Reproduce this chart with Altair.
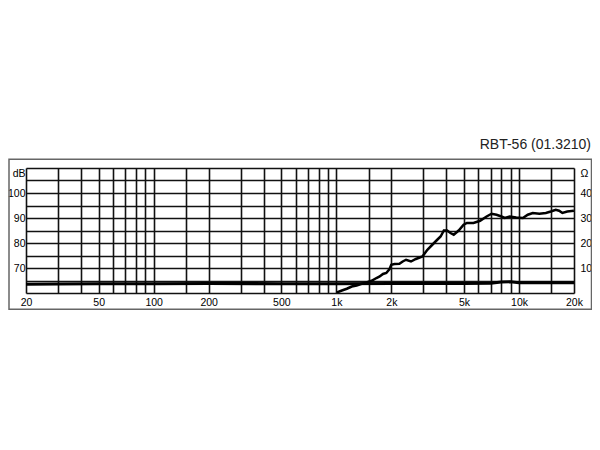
import altair as alt
import pandas as pd

title_text = "RBT-56 (01.3210)"

# rising response curve (dB)
spl_freq = [1007, 1072, 1141, 1214, 1292, 1375, 1464, 1558, 1658, 1727, 1800, 1877, 1956, 1998,
            2082, 2214, 2308, 2408, 2562, 2726, 2960, 3150, 3352, 3568, 3722, 3878, 4040, 4216,
            4392, 4674, 4974, 5184, 5634, 6122, 6646, 7074, 7530, 8010, 8360, 8894, 9656, 10496,
            11170, 11888, 12920, 14028, 14930, 15886, 16574, 17270, 18378, 19976]
spl_db = [60.2, 61.0, 61.7, 62.6, 63.0, 63.7, 64.2, 64.9, 66.0, 66.6, 67.6, 68.0, 69.6, 71.3,
          71.6, 71.7, 72.6, 73.3, 72.6, 73.6, 74.6, 77.3, 79.3, 81.3, 82.6, 85.0, 85.0, 84.0,
          83.3, 85.0, 87.3, 88.0, 88.0, 88.9, 90.6, 91.7, 91.3, 90.6, 90.0, 90.6, 90.2, 90.0,
          91.3, 92.0, 91.7, 92.0, 92.6, 93.3, 92.9, 92.0, 92.6, 92.9]

# flat curve (Ohm)
imp_freq = [20, 30, 50, 100, 200, 500, 1000, 2000, 5000, 7000, 8000, 9000, 10000, 15000, 20000]
imp_ohm = [3.5, 3.6, 3.7, 3.7, 3.8, 3.7, 3.7, 3.8, 3.8, 3.9, 4.4, 4.5, 4.1, 4.1, 4.1]

grid_freqs = [20, 30, 40, 50, 60, 70, 80, 90, 100, 150, 200, 300, 400, 500, 600, 700, 800, 900,
              1000, 1500, 2000, 3000, 4000, 5000, 6000, 7000, 8000, 9000, 10000, 15000, 20000]
label_freqs = [20, 50, 100, 200, 500, 1000, 2000, 5000, 10000, 20000]
db_grid = [60, 65, 70, 75, 80, 85, 90, 95, 100, 105, 110]
db_labels = [70, 80, 90, 100]
ohm_grid = [0, 5, 10, 15, 20, 25, 30, 35, 40, 45, 50]
ohm_labels = [10, 20, 30, 40]

spl = pd.DataFrame({"freq": spl_freq, "db": spl_db})
imp = pd.DataFrame({"freq": imp_freq, "ohm": imp_ohm})

FONT = "Liberation Sans"
LFS = 10.5

x_label_expr = (
    "indexof([" + ",".join(str(v) for v in label_freqs) + "], datum.value) >= 0 ? "
    "(datum.value >= 1000 ? (datum.value / 1000) + 'k' : datum.value + '') : ''"
)
db_label_expr = (
    "datum.value == 110 ? 'dB' : (indexof([" + ",".join(str(v) for v in db_labels)
    + "], datum.value) >= 0 ? datum.value + '' : '')"
)
ohm_label_expr = (
    "datum.value == 50 ? 'Ω' : (indexof([" + ",".join(str(v) for v in ohm_labels)
    + "], datum.value) >= 0 ? datum.value + '' : '')"
)

x_scale = alt.Scale(type="log", domain=[20, 20000], nice=False)
x_enc = alt.X(
    "freq:Q", scale=x_scale,
    axis=alt.Axis(values=grid_freqs, labelExpr=x_label_expr, title=None, grid=True,
                  ticks=False, domain=False, labelFlush=False, labelPadding=4,
                  labelFont=FONT, labelFontSize=LFS, labelColor="#000",
                  gridColor="#111", gridWidth=1.6, gridOpacity=1, labelOverlap=False),
)

spl_layer = alt.Chart(spl).mark_line(color="#000", strokeWidth=2.5, clip=True).encode(
    x=x_enc,
    y=alt.Y("db:Q", scale=alt.Scale(domain=[60, 110], nice=False, zero=False),
            axis=alt.Axis(values=db_grid, labelExpr=db_label_expr, title=None, grid=True,
                          ticks=False, domain=False, labelFlush=True, labelPadding=1,
                          labelFont=FONT, labelFontSize=LFS, labelColor="#000",
                          gridColor="#111", gridWidth=1.6, gridOpacity=1,
                          labelOverlap=False, orient="left")),
)

imp_layer = alt.Chart(imp).mark_line(color="#000", strokeWidth=3.2, clip=True).encode(
    x=alt.X("freq:Q", scale=x_scale),
    y=alt.Y("ohm:Q", scale=alt.Scale(domain=[0, 50], nice=False),
            axis=alt.Axis(values=ohm_grid, labelExpr=ohm_label_expr, title=None, grid=False,
                          ticks=False, domain=False, labelFlush=True, labelPadding=6,
                          labelFont=FONT, labelFontSize=LFS, labelColor="#000",
                          labelOverlap=False, orient="right")),
)

frame = alt.Chart(pd.DataFrame({"k": [0]})).mark_rect(
    filled=False, stroke="#666", strokeWidth=1.5, clip=False
).encode(
    x=alt.value(-17), x2=alt.value(565.5), y=alt.value(-8.7), y2=alt.value(141.3)
)

chart = alt.layer(spl_layer, imp_layer, frame).resolve_scale(y="independent").properties(
    width=548,
    height=125,
    autosize=alt.AutoSizeParams(type="none"),
    padding={"left": 18, "top": 160, "right": 18, "bottom": 140},
    title=alt.TitleParams(title_text, anchor="end", frame="group", dx=17, offset=7,
                          font="Liberation Sans", fontSize=14, fontWeight="normal",
                          color="#222"),
).configure_view(stroke="#111", strokeWidth=1.6).configure(background="white")

chart.save("out.html", embed_options={"renderer": "svg", "actions": False})
